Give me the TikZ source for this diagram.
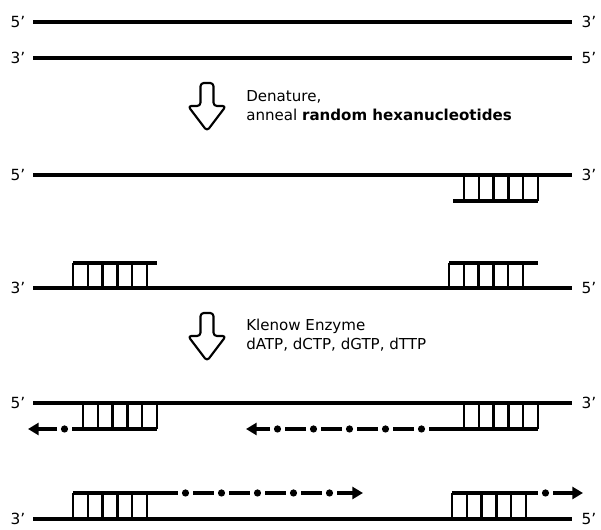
\documentclass[tikz,border=0pt]{standalone}
\usepackage{fontspec}
\setmainfont{DejaVu Sans}
\usetikzlibrary{arrows.meta}
\tikzset{
  strand/.style={line width=2.5pt},
  primline/.style={line width=2.3pt},
  rung/.style={line width=1.9pt},
  ext/.style={line width=2.4pt,dash pattern=on 15.75pt off 11.25pt,-{Triangle[length=8pt,width=9pt]}},
  extdot/.style={fill=black},
  endlbl/.style={inner sep=0pt,font=\fontsize{11.5}{13}\selectfont},
  steplbl/.style={anchor=west,inner sep=0pt,align=left,font=\fontsize{11.3}{14.2}\selectfont},
  hollowarrow/.pic={
    \draw[line width=1.6pt,rounded corners=2.5pt,line join=round]
      (-6.5,0) -- (6.5,0) -- (6.5,23) -- (19,23) -- (0,48) -- (-19,23) -- (-6.5,23) -- cycle;
  }
}
\begin{document}
\begin{tikzpicture}[x=0.75pt,y=-0.75pt]
  \useasboundingbox (0,0) rectangle (601,530);

  % double strand
  \coordinate (a1) at (33,22);  \coordinate (b1) at (572,22);
  \coordinate (a2) at (33,58);  \coordinate (b2) at (572,58);
  \draw[strand] (a1) -- (b1);
  \draw[strand] (a2) -- (b2);
  \node[endlbl] (la1) at (18,22) {5'};
  \node[endlbl] (lb1) at (589,22) {3'};
  \node[endlbl] (la2) at (18,58) {3'};
  \node[endlbl] (lb2) at (589,58) {5'};

  \pic at (207,83) {hollowarrow};
  \node[steplbl] (denat) at (246,106) {Denature,\\anneal \textbf{random hexanucleotides}};

  % separated strands with primers
  \coordinate (a3) at (33,175); \coordinate (b3) at (572,175);
  \coordinate (a4) at (33,288); \coordinate (b4) at (572,288);
  \draw[strand] (a3) -- (b3);
  \draw[strand] (a4) -- (b4);
  \node[endlbl] (la3) at (18,175) {5'};
  \node[endlbl] (lb3) at (589,175) {3'};
  \node[endlbl] (la4) at (18,288) {3'};
  \node[endlbl] (lb4) at (589,288) {5'};

  \draw[primline] (453,201) -- (538,201);
  \foreach \i in {0,...,5} \draw[rung] ({464+14.8*\i},175) -- ({464+14.8*\i},201);
  \draw[primline] (73,263) -- (157,263);
  \foreach \i in {0,...,5} \draw[rung] ({73+14.8*\i},263) -- ({73+14.8*\i},288);
  \draw[primline] (449,263) -- (538,263);
  \foreach \i in {0,...,5} \draw[rung] ({449+14.8*\i},263) -- ({449+14.8*\i},288);

  \pic at (207,313) {hollowarrow};
  \node[steplbl] (klenow) at (246,335) {Klenow Enzyme\\dATP, dCTP, dGTP, dTTP};

  % extension by Klenow
  \coordinate (a5) at (33,403); \coordinate (b5) at (572,403);
  \coordinate (a6) at (33,519); \coordinate (b6) at (572,519);
  \draw[strand] (a5) -- (b5);
  \draw[strand] (a6) -- (b6);
  \node[endlbl] (la5) at (18,403) {5'};
  \node[endlbl] (lb5) at (589,403) {3'};
  \node[endlbl] (la6) at (18,519) {3'};
  \node[endlbl] (lb6) at (589,519) {5'};

  \draw[primline] (72,429) -- (157,429);
  \foreach \i in {0,...,5} \draw[rung] ({83+14.8*\i},403) -- ({83+14.8*\i},429);
  \draw[primline] (450,429) -- (538,429);
  \foreach \i in {0,...,5} \draw[rung] ({464+14.8*\i},403) -- ({464+14.8*\i},429);
  \draw[primline] (73,493) -- (157,493);
  \foreach \i in {0,...,5} \draw[rung] ({73+14.8*\i},493) -- ({73+14.8*\i},519);
  \draw[primline] (452,493) -- (538,493);
  \foreach \i in {0,...,5} \draw[rung] ({452+14.8*\i},493) -- ({452+14.8*\i},519);

  \coordinate (e5l) at (72,429);  \coordinate (t5l) at (28,429);
  \coordinate (e5r) at (450,429); \coordinate (t5r) at (246,429);
  \coordinate (e6l) at (157,493); \coordinate (t6l) at (363,493);
  \coordinate (e6r) at (538,493); \coordinate (t6r) at (583,493);
  \draw[ext,dash phase=15.75pt] (e5l) -- (t5l);
  \draw[ext] (e5r) -- (t5r);
  \draw[ext] (e6l) -- (t6l);
  \draw[ext,dash phase=15.75pt] (e6r) -- (t6r);
  \fill[extdot] (64.5,429) circle (2.7pt);
  \foreach \x in {421.5,385.5,349.5,313.5,277.5} \fill[extdot] (\x,429) circle (2.7pt);
  \foreach \x in {185.5,221.5,257.5,293.5,329.5} \fill[extdot] (\x,493) circle (2.7pt);
  \fill[extdot] (545.5,493) circle (2.7pt);
\end{tikzpicture}
\end{document}
